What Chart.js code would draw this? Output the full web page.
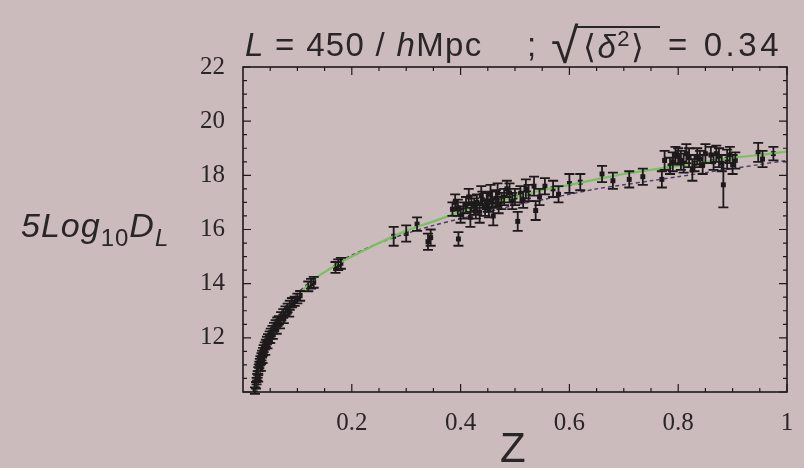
<!DOCTYPE html>
<html>
<head>
<meta charset="utf-8">
<script src="https://cdn.jsdelivr.net/npm/chart.js@4/dist/chart.umd.min.js"></script>
<style>
  body { margin: 0; background: #ccbbbd; }
  #wrap { position: relative; width: 804px; height: 468px; background: #ccbbbd; }
  #chart { position: absolute; left: 0; top: 0; }
  .lbl { position: absolute; color: #2a2527; font-family: "Liberation Sans", Arial, sans-serif; white-space: nowrap; line-height: 1; }
  .t { top: 28px; font-size: 33px; }
  .t i { font-style: italic; }
  #t1 { left: 245px; letter-spacing: 1.3px; }
  #t2 { left: 527px; }
  #t3 { left: 551px; top: 21px; font-size: 50px; }
  #t4 { left: 583px; letter-spacing: 1.5px; }
  #t4 sup { font-size: 22px; vertical-align: 12px; }
  #bar { position: absolute; left: 576px; top: 26px; width: 84px; border-top: 2px solid #2a2527; }
  #t5 { left: 668px; letter-spacing: 3.6px; }
  #ylab { left: 21px; top: 208px; font-size: 34px; font-style: italic; letter-spacing: 1px; }
  #ylab sub { font-size: 24px; vertical-align: -9px; font-style: normal; }
  #ylab sub.it { font-style: italic; }
  #xlab { left: 500px; top: 427px; font-size: 42px; }
</style>
</head>
<body>
<div id="wrap">
  <canvas id="chart" width="804" height="468"></canvas>
  <div class="lbl t" id="t1"><i>L</i> = 450 / <i>h</i>Mpc</div>
  <div class="lbl t" id="t2">;</div>
  <div class="lbl t" id="t3">√</div>
  <div id="bar"></div>
  <div class="lbl t" id="t4">⟨<i>δ</i><sup>2</sup>⟩</div>
  <div class="lbl t" id="t5">= 0.34</div>
  <div class="lbl" id="ylab">5Log<sub>10</sub>D<sub class="it">L</sub></div>
  <div class="lbl" id="xlab">Z</div>
</div>
<script>
// redshift and 5 log10 D_L of each object, with its error
const pointZ = [
  0.022, 0.024, 0.025, 0.026, 0.027, 0.028, 0.029, 0.030, 0.031, 0.032,
  0.034, 0.035, 0.037, 0.038, 0.040, 0.042, 0.044, 0.046, 0.049, 0.051,
  0.054, 0.057, 0.060, 0.063, 0.066, 0.070, 0.074, 0.078, 0.082, 0.086,
  0.090, 0.095, 0.100, 0.105, 0.120, 0.125, 0.130, 0.170, 0.175, 0.180,
  0.028, 0.033, 0.036, 0.041, 0.045, 0.050, 0.055, 0.062, 0.068, 0.075, 0.085,
  0.277, 0.300, 0.320, 0.340, 0.345, 0.396, 0.385, 0.395, 0.405, 0.410,
  0.418, 0.425, 0.430, 0.435, 0.440, 0.445, 0.450, 0.455, 0.460, 0.465,
  0.470, 0.480, 0.490, 0.495, 0.505, 0.510, 0.520, 0.538, 0.545, 0.555,
  0.570, 0.580, 0.600, 0.620, 0.660, 0.680, 0.710, 0.735, 0.770, 0.775,
  0.790, 0.800, 0.810, 0.820, 0.826, 0.835, 0.845, 0.860, 0.875, 0.883,
  0.890, 0.900, 0.947, 0.955, 0.975,
  0.390, 0.400, 0.415, 0.420, 0.428, 0.438, 0.448, 0.452, 0.458, 0.468,
  0.475, 0.485, 0.500, 0.515, 0.525, 0.535,
  0.785, 0.795, 0.805, 0.815, 0.830, 0.840, 0.850, 0.865, 0.870, 0.880,
  0.895, 0.905
];
const pointMag = [
  10.05, 10.25, 10.40, 10.55, 10.65, 10.80, 10.90, 11.00, 11.10, 11.20,
  11.30, 11.40, 11.50, 11.60, 11.70, 11.80, 11.90, 12.00, 12.10, 12.20,
  12.30, 12.40, 12.50, 12.60, 12.65, 12.80, 12.90, 13.00, 13.10, 13.20,
  13.30, 13.35, 13.45, 13.55, 13.90, 14.00, 14.05, 14.60, 14.70, 14.75,
  10.50, 10.90, 11.20, 11.50, 11.75, 11.95, 12.10, 12.30, 12.50, 12.70, 12.95,
  15.75, 15.85, 16.20, 15.55, 15.70, 15.65, 16.75, 16.80, 16.70, 16.90,
  16.45, 16.85, 17.00, 16.60, 17.10, 16.80, 17.00, 17.30, 16.50, 17.15,
  16.90, 17.20, 17.35, 17.05, 16.30, 17.30, 17.50, 16.70, 17.20, 17.60,
  17.50, 17.30, 17.70, 17.75, 18.05, 17.80, 17.85, 17.95, 17.85, 18.55,
  18.50, 18.70, 18.45, 18.65, 18.20, 18.70, 18.40, 18.75, 18.65, 17.65,
  18.60, 18.40, 18.85, 18.60, 18.80,
  17.00, 16.55, 17.20, 16.95, 16.70, 17.25, 17.05, 16.75, 17.10, 17.35,
  17.05, 17.50, 17.20, 17.10, 17.35, 17.60,
  18.35, 18.75, 18.55, 18.80, 18.45, 18.60, 18.80, 18.50, 18.80, 18.45,
  18.75, 18.55
];
const pointErr = [
  0.12, 0.12, 0.12, 0.12, 0.12, 0.12, 0.12, 0.12, 0.12, 0.12,
  0.13, 0.13, 0.13, 0.13, 0.13, 0.13, 0.14, 0.14, 0.14, 0.14,
  0.14, 0.15, 0.15, 0.15, 0.15, 0.15, 0.16, 0.16, 0.16, 0.17,
  0.17, 0.17, 0.18, 0.18, 0.18, 0.18, 0.20, 0.20, 0.20, 0.20,
  0.12, 0.12, 0.13, 0.13, 0.14, 0.14, 0.14, 0.15, 0.15, 0.16, 0.17,
  0.35, 0.30, 0.25, 0.30, 0.30, 0.25, 0.25, 0.30, 0.30, 0.30,
  0.35, 0.30, 0.30, 0.35, 0.30, 0.30, 0.35, 0.35, 0.35, 0.30,
  0.30, 0.30, 0.35, 0.30, 0.35, 0.30, 0.35, 0.35, 0.30, 0.30,
  0.30, 0.30, 0.35, 0.30, 0.30, 0.30, 0.30, 0.30, 0.30, 0.35,
  0.35, 0.30, 0.35, 0.35, 0.40, 0.30, 0.35, 0.30, 0.35, 0.83,
  0.35, 0.35, 0.35, 0.30, 0.25,
  0.30, 0.30, 0.30, 0.30, 0.30, 0.35, 0.30, 0.30, 0.30, 0.35,
  0.30, 0.30, 0.30, 0.30, 0.30, 0.35,
  0.30, 0.30, 0.35, 0.35, 0.30, 0.30, 0.35, 0.30, 0.30, 0.30,
  0.30, 0.30
];

// model curves (solid green and dashed)
const modelZ = [
  0.022, 0.025, 0.030, 0.035, 0.040, 0.050, 0.060, 0.070, 0.080, 0.090,
  0.100, 0.120, 0.140, 0.160, 0.180, 0.200, 0.250, 0.300, 0.350, 0.400,
  0.450, 0.500, 0.550, 0.600, 0.650, 0.700, 0.750, 0.800, 0.850, 0.900,
  0.950, 1.000
];
const solidMag = [
  10.00, 10.30, 10.85, 11.25, 11.60, 12.10, 12.50, 12.85, 13.10, 13.35,
  13.55, 13.95, 14.30, 14.55, 14.80, 15.00, 15.50, 15.95, 16.30, 16.65,
  16.95, 17.20, 17.45, 17.65, 17.85, 18.05, 18.20, 18.35, 18.50, 18.65,
  18.75, 18.88
];
const dashedMag = [
  10.05, 10.40, 10.95, 11.35, 11.70, 12.20, 12.60, 12.95, 13.20, 13.45,
  13.65, 14.00, 14.30, 14.55, 14.85, 15.05, 15.50, 15.85, 16.15, 16.40,
  16.65, 16.90, 17.10, 17.30, 17.50, 17.65, 17.80, 17.95, 18.10, 18.25,
  18.40, 18.55
];

const xTicks = [0.2, 0.4, 0.6, 0.8, 1];
const yTicks = [12, 14, 16, 18, 20, 22];

const ink = '#1e1a1c';

const zip = (xs, ys) => xs.map((v, i) => ({ x: v, y: ys[i] }));

// vertical error bars with caps, positioned through the scales
const errorBars = {
  id: 'errorBars',
  afterDatasetsDraw(chart) {
    const { ctx, scales: { x, y } } = chart;
    ctx.save();
    ctx.strokeStyle = ink;
    ctx.lineWidth = 1.8;
    pointZ.forEach((z, i) => {
      const px = x.getPixelForValue(z);
      const top = y.getPixelForValue(pointMag[i] + pointErr[i]);
      const bot = y.getPixelForValue(pointMag[i] - pointErr[i]);
      ctx.beginPath();
      ctx.moveTo(px, top); ctx.lineTo(px, bot);
      ctx.moveTo(px - 5, top); ctx.lineTo(px + 5, top);
      ctx.moveTo(px - 5, bot); ctx.lineTo(px + 5, bot);
      ctx.stroke();
    });
    ctx.restore();
  }
};

// frame with inward ticks on all four sides
const frameTicks = {
  id: 'frameTicks',
  afterDraw(chart) {
    const { ctx, chartArea: a, scales: { x, y } } = chart;
    ctx.save();
    ctx.strokeStyle = ink;
    ctx.lineWidth = 1.6;
    ctx.strokeRect(a.left, a.top, a.right - a.left, a.bottom - a.top);
    ctx.lineWidth = 1.2;
    ctx.beginPath();
    for (let i = 20; i <= 44; i++) {
      const py = y.getPixelForValue(i / 2);
      const len = i % 4 === 0 ? 8 : 4;
      ctx.moveTo(a.left, py); ctx.lineTo(a.left + len, py);
      ctx.moveTo(a.right, py); ctx.lineTo(a.right - len, py);
    }
    for (let i = 1; i <= 20; i++) {
      const px = x.getPixelForValue(i / 20);
      const len = i % 4 === 0 ? 8 : 4;
      ctx.moveTo(px, a.bottom); ctx.lineTo(px, a.bottom - len);
      ctx.moveTo(px, a.top); ctx.lineTo(px, a.top + len);
    }
    ctx.stroke();
    ctx.restore();
  }
};

const tickFont = { family: '"Liberation Serif", "Times New Roman", serif', size: 25 };

new Chart(document.getElementById('chart'), {
  type: 'scatter',
  data: {
    datasets: [
      {
        label: 'model',
        data: zip(modelZ, solidMag),
        showLine: true,
        borderColor: '#78c060',
        borderWidth: 2.2,
        pointRadius: 0,
        tension: 0.3
      },
      {
        label: 'model (dashed)',
        data: zip(modelZ, dashedMag),
        showLine: true,
        borderColor: '#4e3a68',
        borderWidth: 1.4,
        borderDash: [4, 3],
        pointRadius: 0,
        tension: 0.3
      },
      {
        label: 'data',
        data: zip(pointZ, pointMag),
        pointStyle: 'rect',
        pointRadius: 3.5,
        backgroundColor: ink,
        borderColor: ink,
        borderWidth: 0
      }
    ]
  },
  options: {
    responsive: false,
    animation: false,
    events: [],
    layout: { padding: { left: 0, top: 67, right: 17, bottom: 0 } },
    plugins: {
      legend: { display: false },
      tooltip: { enabled: false }
    },
    scales: {
      x: {
        type: 'linear',
        min: 0,
        max: 1,
        afterFit: s => { s.height = 76; },
        afterBuildTicks: s => { s.ticks = xTicks.map(v => ({ value: v })); },
        grid: { display: false },
        border: { display: false },
        ticks: {
          font: tickFont,
          color: '#2a2527',
          padding: 8,
          maxRotation: 0,
          callback: v => String(Number(v.toFixed(1)))
        }
      },
      y: {
        type: 'linear',
        min: 10,
        max: 22,
        afterFit: s => { s.width = 243; },
        afterBuildTicks: s => { s.ticks = yTicks.map(v => ({ value: v })); },
        grid: { display: false },
        border: { display: false },
        ticks: {
          font: tickFont,
          color: '#2a2527',
          padding: 10
        }
      }
    }
  },
  plugins: [errorBars, frameTicks]
});
</script>
</body>
</html>
